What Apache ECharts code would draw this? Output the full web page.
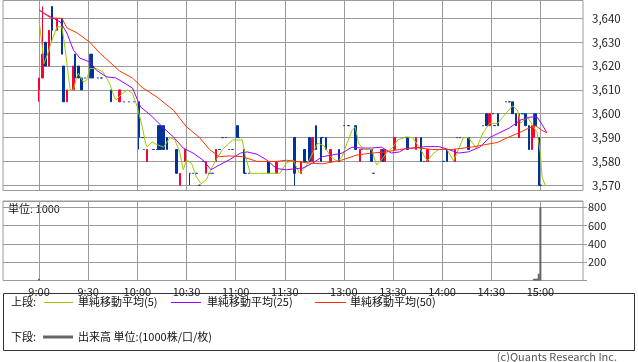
<!DOCTYPE html>
<html><head><meta charset="utf-8">
<script src="https://cdn.jsdelivr.net/npm/echarts@6/dist/echarts.min.js"></script>
<style>html,body{margin:0;padding:0;background:#fff;}#c{width:638px;height:362px;}</style>
</head><body><div id="c"></div>
<script>
// ---- tick labels shown on the time axis ----
const timeLabels = ['9:00','9:30','10:00','10:30','11:00','11:30','13:00','13:30','14:00','14:30','15:00'];
const priceTicks = [3570,3580,3590,3600,3610,3620,3630,3640];
// ---- 1-minute candles: [time, open, close, low, high] ----
const candles = [
['9:00',3610,3615,3605,3615],['9:02',3615,3625,3615,3645],['9:04',3630,3620,3620,3630],
['9:06',3620,3635,3620,3635],['9:08',3645,3635,3630,3645],['9:11',3635,3640,3635,3640],
['9:14',3640,3625,3625,3640],['9:15',3620,3605,3605,3620],['9:17',3605,3610,3605,3610],
['9:21',3610,3620,3610,3620],['9:22',3625,3615,3615,3625],['9:24',3620,3615,3615,3620],
['9:26',3615,3610,3610,3615],['9:28',3615,3615,3615,3615],['9:31',3615,3625,3615,3625],
['9:32',3625,3615,3615,3625],['9:33',3620,3615,3615,3620],['9:36',3615,3615,3615,3615],
['9:38',3615,3615,3615,3615],['9:44',3610,3605,3605,3610],['9:49',3605,3610,3605,3610],
['9:52',3605,3605,3605,3605],['9:55',3605,3605,3605,3605],['9:58',3605,3605,3605,3605],
['10:01',3605,3590,3585,3605],['10:03',3590,3590,3590,3590],['10:04',3585,3585,3585,3585],
['10:06',3580,3585,3580,3585],['10:10',3585,3585,3585,3585],['10:12',3585,3585,3585,3585],
['10:13',3595,3585,3585,3595],['10:14',3595,3585,3585,3595],['10:16',3595,3585,3585,3595],
['10:18',3590,3585,3585,3590],['10:24',3585,3575,3575,3585],['10:26',3570,3575,3570,3575],
['10:29',3580,3585,3580,3585],['10:32',3575,3575,3570,3575],['10:34',3575,3575,3575,3575],
['10:36',3575,3575,3575,3575],['10:38',3570,3570,3570,3570],['10:40',3580,3580,3580,3580],
['10:42',3575,3580,3575,3580],['10:44',3575,3575,3575,3575],['10:46',3575,3575,3575,3575],
['10:48',3580,3585,3580,3585],['10:50',3585,3585,3585,3585],['10:52',3590,3590,3590,3590],
['10:54',3590,3590,3590,3590],['10:56',3585,3585,3585,3585],['10:58',3585,3585,3585,3585],
['11:01',3595,3590,3590,3595],['11:02',3590,3590,3590,3590],['11:05',3585,3575,3575,3585],
['11:06',3575,3575,3575,3575],['11:08',3575,3575,3575,3575],['11:20',3580,3575,3575,3580],
['11:25',3575,3580,3575,3580],
['12:30',3590,3575,3570,3590],['12:34',3575,3580,3575,3580],['12:36',3585,3580,3580,3585],
['12:37',3580,3580,3580,3580],['12:39',3590,3580,3580,3590],['12:41',3580,3590,3580,3590],
['12:43',3595,3585,3585,3595],['12:46',3590,3580,3580,3590],['12:47',3590,3590,3590,3590],
['12:49',3590,3585,3585,3590],['12:52',3580,3585,3580,3585],['12:57',3585,3580,3580,3585],
['13:00',3595,3595,3595,3595],['13:03',3595,3595,3595,3595],['13:07',3595,3585,3585,3595],
['13:10',3580,3585,3580,3585],['13:11',3585,3585,3585,3585],['13:17',3585,3580,3580,3585],
['13:18',3575,3575,3575,3575],['13:23',3580,3585,3580,3585],['13:24',3585,3580,3580,3585],
['13:25',3580,3585,3580,3585],['13:31',3585,3590,3585,3590],['13:37',3590,3590,3590,3590],
['13:39',3590,3585,3585,3590],['13:41',3590,3590,3590,3590],['13:44',3585,3590,3585,3590],
['13:47',3590,3580,3580,3590],['13:49',3580,3580,3580,3580],['13:51',3580,3585,3580,3585],
['14:01',3580,3580,3580,3580],['14:03',3585,3580,3580,3585],['14:08',3580,3585,3580,3585],
['14:09',3590,3590,3590,3590],['14:11',3590,3590,3590,3590],['14:14',3590,3590,3590,3590],
['14:16',3590,3585,3585,3590],['14:25',3595,3595,3595,3595],['14:27',3600,3595,3595,3600],
['14:29',3595,3600,3595,3600],['14:31',3600,3600,3600,3600],['14:32',3595,3595,3595,3595],
['14:34',3600,3595,3595,3600],['14:39',3605,3605,3605,3605],['14:41',3605,3605,3605,3605],
['14:43',3605,3600,3600,3605],['14:45',3600,3595,3595,3600],['14:47',3590,3600,3590,3600],
['14:49',3600,3600,3600,3600],['14:51',3600,3595,3595,3600],['14:53',3595,3585,3585,3595],
['14:55',3585,3595,3585,3595],['14:56',3590,3600,3590,3600],['14:57',3600,3595,3595,3600],
['14:59',3590,3570,3570,3590],['15:00',3570,3570,3570,3570]
];
// ---- moving averages: [time, value] ----
const ma5 = [
['9:00',3639.3],['9:02',3628],['9:03',3621],['9:05',3624.6],['9:08',3631],['9:11',3636.5],['9:14',3636.5],
['9:16',3626.7],['9:18',3615.5],['9:19',3610],['9:21',3610],['9:23',3615.5],['9:24',3617],['9:27',3613.3],
['9:29',3614],['9:31',3619],['9:35',3619],['9:39',3617.5],['9:43',3612.8],['9:46',3607],['9:47',3605.8],
['9:51',3608.6],['9:54',3610],['9:57',3608.6],['10:00',3602.8],['10:03',3594.5],['10:05',3587.7],['10:06',3586],
['10:09',3588.2],['10:12',3587],['10:16',3586],['10:20',3590],['10:23',3589],['10:26',3583.5],['10:28',3576.5],
['10:30',3580.6],['10:33',3579.3],['10:36',3573.5],['10:39',3570.6],['10:42',3572.3],['10:46',3578],['10:48',3580.6],
['10:52',3585],['10:58',3589],['11:04',3589],['11:06',3582],['11:09',3575],['11:19',3575],['11:27',3575],
['11:31',3579.3],['11:35',3580.6],['12:33',3575],['12:37',3578],['12:41',3583.5],['12:44',3587.7],['12:48',3586.5],
['12:52',3582],['12:56',3580],['12:59',3582],['13:02',3587.7],['13:05',3593],['13:07',3594.5],['13:09',3587.7],
['13:12',3585],['13:17',3585],['13:20',3578.5],['13:23',3580.6],['13:26',3583.5],['13:30',3586],['13:33',3589],
['13:38',3590.3],['13:42',3590],['13:46',3586],['13:51',3580.2],['13:55',3583.5],['13:58',3585],['14:03',3585],
['14:07',3580.2],['14:10',3585],['14:13',3590],['14:16',3590],['14:21',3585.6],['14:25',3592],['14:29',3596],
['14:34',3596],['14:37',3598.6],['14:43',3603.3],['14:46',3601.5],['14:48',3596],['14:52',3598.6],['14:55',3595.5],
['14:58',3592],['15:00',3583.5],['15:01',3573.5],['15:03',3570]
];
const ma25 = [
['9:00',3643.5],['9:05',3641.4],['9:13',3638.5],['9:17',3633.8],['9:21',3626.7],['9:25',3623.3],['9:31',3621.7],
['9:35',3618.3],['9:41',3615.5],['9:47',3615],['9:57',3610.8],['10:02',3602.8],['10:08',3599.5],['10:16',3594],
['10:22',3590.3],['10:28',3585.6],['10:34',3583.5],['10:40',3580.6],['10:45',3576.5],['10:50',3578.5],['10:56',3580.6],
['11:03',3583.5],['11:07',3584],['11:13',3583],['11:19',3580.6],['11:25',3577],['11:31',3576.5],['12:31',3577],
['12:35',3577.2],['12:41',3579.3],['12:47',3582],['12:53',3582.7],['12:59',3583.5],['13:05',3586],['13:11',3585.6],
['13:17',3585.6],['13:23',3586],['13:29',3583.5],['13:34',3584],['13:38',3585.6],['13:41',3585.5],['13:50',3586.2],
['13:58',3586.2],['14:04',3585],['14:10',3583.5],['14:16',3584],['14:23',3586],['14:29',3590],['14:35',3592],
['14:41',3594],['14:48',3597.4],['14:54',3598.6],['14:58',3598.6],['15:01',3595.5],['15:04',3592]
];
const ma50 = [
['9:00',3643.5],['9:07',3640.2],['9:14',3640],['9:17',3636],['9:23',3634],['9:31',3630],['9:37',3625.5],
['9:49',3618],['9:57',3615],['10:03',3611],['10:12',3607],['10:22',3601.5],['10:30',3594.5],['10:38',3590],
['10:44',3585],['10:50',3582],['10:56',3582.3],['11:04',3582],['11:13',3580],['11:25',3580],['11:31',3580.5],
['12:39',3579.3],['12:47',3579],['12:55',3580],['12:59',3580.6],['13:08',3582.7],['13:17',3583.5],['13:26',3584],
['13:34',3585],['13:44',3585.8],['13:54',3585],['14:06',3585],['14:18',3586],['14:26',3587],['14:34',3588],
['14:40',3590],['14:47',3592],['14:53',3594],['14:57',3595],['15:01',3593],['15:04',3592]
];
// ---- volume (unit 1000) ----
const volume = [['9:00',20],['14:56',18],['14:57',20],['14:58',20],['14:59',74],['15:00',800]];

// ---- time slots (1 minute each; 12:30 resumes after a short gap) ----
const categories = [];
for (let i = 0; i < 22; i++) categories.push('pre' + i);
function pushRange(a, b) { for (let t = a; t <= b; t++) categories.push(Math.floor(t / 60) + ':' + String(t % 60).padStart(2, '0')); }
pushRange(9 * 60, 11 * 60 + 35);
pushRange(12 * 60 + 30, 15 * 60 + 26);
const idx = t => categories.indexOf(t);
const labelSet = new Set(timeLabels);
const showAt = (i, v) => labelSet.has(v);

const candleData = categories.map(() => '-');
candles.forEach(([t, o, c, l, h]) => { candleData[idx(t)] = [o, c, l, h]; });
const toLine = pairs => { const a = categories.map(() => null); pairs.forEach(([t, v]) => { a[idx(t)] = v; }); return a; };
const volData = categories.map(() => null);
volume.forEach(([t, v]) => { volData[idx(t)] = v; });

const F = 'Noto Sans CJK JP';
const GRID = '#9a9a9a';
const chart = echarts.init(document.getElementById('c'), null, { renderer: 'canvas' });
const fmt = v => String(v).replace(/\B(?=(\d{3})+(?!\d))/g, ',');
chart.setOption({
  animation: false,
  textStyle: { fontFamily: F },
  grid: [
    { left: 3, right: 55, top: 0.5, height: 190, show: true, borderColor: GRID, borderWidth: 1, backgroundColor: 'transparent' },
    { left: 3, right: 55, top: 201, height: 79.5, show: true, borderColor: GRID, borderWidth: 1, backgroundColor: 'transparent' }
  ],
  xAxis: [
    { gridIndex: 0, type: 'category', data: categories, boundaryGap: false,
      axisLine: { show: false }, axisTick: { show: false }, axisLabel: { show: false },
      splitLine: { show: true, interval: showAt, lineStyle: { color: GRID, width: 1 } } },
    { gridIndex: 1, type: 'category', data: categories, boundaryGap: false,
      axisLine: { show: false }, axisTick: { show: false },
      axisLabel: { show: true, interval: showAt, margin: 6, fontSize: 11, color: '#222', fontFamily: F },
      splitLine: { show: true, interval: showAt, lineStyle: { color: GRID, width: 1 } } }
  ],
  yAxis: [
    { gridIndex: 0, type: 'value', position: 'right', min: 3567.8, max: 3647.5,
      axisLine: { show: false }, axisTick: { show: false, customValues: priceTicks },
      axisLabel: { customValues: priceTicks, formatter: fmt, margin: 9, fontSize: 11.5, color: '#222', fontFamily: F },
      splitLine: { show: true, lineStyle: { color: GRID, width: 1 } } },
    { gridIndex: 1, type: 'value', position: 'right', min: 0, max: 869, interval: 200,
      axisLine: { show: false }, axisTick: { show: true, length: 4, lineStyle: { color: GRID } },
      axisLabel: { showMaxLabel: false, formatter: v => (v === 0 ? '' : String(v)), margin: 5, fontSize: 11, color: '#222', fontFamily: F },
      splitLine: { show: true, lineStyle: { color: GRID, width: 1 } } }
  ],
  series: [
    { type: 'candlestick', xAxisIndex: 0, yAxisIndex: 0, data: candleData, barWidth: 2,
      itemStyle: { color: '#ff0033', color0: '#003399', borderColor: '#ff0033', borderColor0: '#003399', borderColorDoji: '#003399', borderWidth: 1 } },
    { type: 'line', name: 'ma5', xAxisIndex: 0, yAxisIndex: 0, data: toLine(ma5), connectNulls: true, symbol: 'none', lineStyle: { color: '#99cc00', width: 1 } },
    { type: 'line', name: 'ma25', xAxisIndex: 0, yAxisIndex: 0, data: toLine(ma25), connectNulls: true, symbol: 'none', lineStyle: { color: '#9900ff', width: 1 } },
    { type: 'line', name: 'ma50', xAxisIndex: 0, yAxisIndex: 0, data: toLine(ma50), connectNulls: true, symbol: 'none', lineStyle: { color: '#ff3300', width: 1 } },
    { type: 'bar', xAxisIndex: 1, yAxisIndex: 1, data: volData, barWidth: 2, itemStyle: { color: '#666666' } }
  ],
  graphic: [
    { type: 'text', left: 8, top: 203, style: { text: '単位: 1000', font: '11px "' + F + '"', fill: '#111' } },
    { type: 'rect', shape: { x: 3.5, y: 293.5, width: 631, height: 57 }, style: { fill: 'none', stroke: '#333', lineWidth: 1 } },
    { type: 'text', x: 11, y: 302, style: { text: '上段:', font: '11px "' + F + '"', fill: '#111', verticalAlign: 'middle' } },
    { type: 'line', shape: { x1: 44, y1: 302.5, x2: 73, y2: 302.5 }, style: { stroke: '#99cc00', lineWidth: 1 } },
    { type: 'text', x: 78, y: 302, style: { text: '単純移動平均(5)', font: '11px "' + F + '"', fill: '#111', verticalAlign: 'middle' } },
    { type: 'line', shape: { x1: 171, y1: 302.5, x2: 201, y2: 302.5 }, style: { stroke: '#9900ff', lineWidth: 1 } },
    { type: 'text', x: 207, y: 302, style: { text: '単純移動平均(25)', font: '11px "' + F + '"', fill: '#111', verticalAlign: 'middle' } },
    { type: 'line', shape: { x1: 315, y1: 302.5, x2: 346, y2: 302.5 }, style: { stroke: '#ff3300', lineWidth: 1 } },
    { type: 'text', x: 350, y: 302, style: { text: '単純移動平均(50)', font: '11px "' + F + '"', fill: '#111', verticalAlign: 'middle' } },
    { type: 'text', x: 11, y: 337, style: { text: '下段:', font: '11px "' + F + '"', fill: '#111', verticalAlign: 'middle' } },
    { type: 'line', shape: { x1: 43, y1: 337, x2: 73, y2: 337 }, style: { stroke: '#666', lineWidth: 3 } },
    { type: 'text', x: 78, y: 337, style: { text: '出来高 単位:(1000株/口/枚)', font: '11px "' + F + '"', fill: '#111', verticalAlign: 'middle' } },
    { type: 'text', x: 617, y: 357, style: { text: '(c)Quants Research Inc.', font: '11px "' + F + '"', fill: '#555', align: 'right', verticalAlign: 'middle' } }
  ]
});
</script></body></html>
